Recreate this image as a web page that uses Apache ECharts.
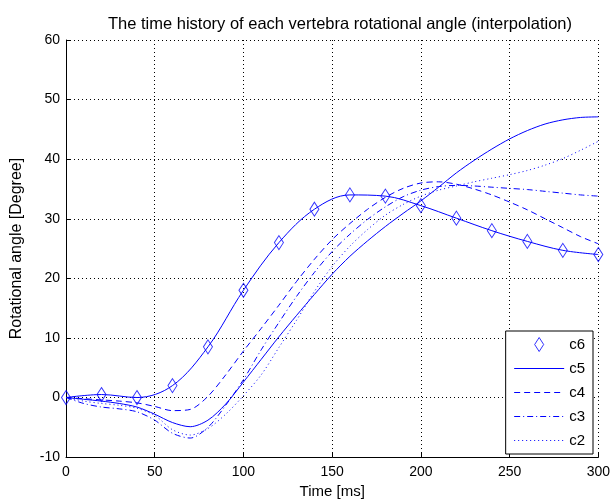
<!DOCTYPE html>
<html><head><meta charset="utf-8">
<script src="https://cdn.jsdelivr.net/npm/echarts@6/dist/echarts.min.js"></script>
<style>html,body{margin:0;padding:0;background:#fff}#c{width:613px;height:504px}</style>
</head><body><div id="c"></div>
<script>
const titleText = 'The time history of each vertebra rotational angle (interpolation)';
const xName = 'Time [ms]';
const yName = 'Rotational angle [Degree]';
const legendNames = ['c6','c5','c4','c3','c2'];
const timeMarkers = [0,20,40,60,80,100,120,140,160,180,200,220,240,260,280,300];
const c6 = [0,0.5,0,2,8.5,18,26,31.6,34,33.8,32.2,30.1,28,26.2,24.7,24];
const timeFine = [0,10,20,30,40,50,60,70,80,90,100,110,120,130,140,150,160,170,180,190,200,210,220,230,240,250,260,270,280,290,300];
const c5 = [0,-0.3,-0.6,-1.0,-1.6,-2.8,-4.2,-4.9,-3.8,-1.1,2.6,6.4,10.2,13.8,17.3,20.7,23.7,26.3,28.7,30.9,33.0,35.3,37.7,39.8,41.7,43.4,44.8,45.9,46.6,47.0,47.1];
const c4 = [0,-0.2,-0.4,-0.6,-0.9,-1.5,-2.2,-2.0,0.2,3.8,7.8,11.6,15.5,19.5,23.2,26.5,29.2,31.6,33.6,35.1,36.0,36.2,35.8,35.0,34.0,32.8,31.5,30.0,28.5,27.0,25.8];
const c3 = [0,-1.0,-1.6,-1.9,-2.4,-3.8,-6.0,-6.8,-5.0,-1.3,3.0,8.0,12.6,17.0,21.0,24.5,27.4,29.9,32.0,33.7,34.8,35.4,35.6,35.5,35.3,35.1,34.9,34.6,34.3,34.0,33.8];
const c2 = [0,-0.6,-1.0,-1.3,-1.8,-3.0,-5.4,-6.3,-5.2,-2.8,0.3,3.8,8.4,13.0,17.8,22.0,25.4,28.2,30.6,32.4,33.8,34.8,35.5,36.2,36.8,37.4,38.1,39.0,40.1,41.5,43.0];
const xTicks = {min:0, max:300, interval:50};
const yTicks = {min:-10, max:60, interval:10};

const BLUE = '#0000ff';
const font = 'Liberation Sans, Arial, sans-serif';
const pairs = (xs, ys) => xs.map((x, i) => [x, ys[i]]);
const dashes = {c5: 'solid', c4: [6, 4], c3: [6, 3, 1, 3], c2: [1, 3]};
const lineSeries = (name, ys) => ({
  name, type: 'line', data: pairs(timeFine, ys), smooth: 0.3, symbol: 'none',
  lineStyle: {color: BLUE, width: 1, type: dashes[name]}, z: 3
});
const lineIcon = 'path://M0,0 M50,14 M0,7 L50,7';
const diamondIcon = 'path://M0,0 M50,14 M25,0 L29.5,7 L25,14 L20.5,7 Z';
const legendData = legendNames.map(n => n === 'c6'
  ? {name: n, icon: diamondIcon, itemStyle: {color: 'rgba(255,255,255,0)', borderColor: BLUE, borderWidth: 1}}
  : {name: n, icon: lineIcon, itemStyle: {color: 'rgba(255,255,255,0)', borderColor: BLUE, borderWidth: 1, borderType: dashes[n]}});

const chart = echarts.init(document.getElementById('c'), null, {renderer: 'canvas'});
chart.setOption({
  animation: false,
  backgroundColor: '#fff',
  title: {text: titleText, left: 335, top: 11, textAlign: 'center',
    textStyle: {fontFamily: font, fontSize: 16.5, fontWeight: 'normal', color: '#000'}},
  grid: {left: 66, right: 10, top: 40, bottom: 43, containLabel: false},
  legend: {
    data: legendData, orient: 'vertical', right: 20, top: 331,
    itemWidth: 50, itemHeight: 14, itemGap: 9, padding: [6, 8, 6, 8],
    borderColor: '#000', borderWidth: 1, backgroundColor: '#fff',
    textStyle: {fontFamily: font, fontSize: 15, color: '#000'}
  },
  xAxis: {type: 'value', min: xTicks.min, max: xTicks.max, interval: xTicks.interval,
    name: xName, nameLocation: 'middle', nameGap: 26,
    nameTextStyle: {fontFamily: font, fontSize: 15, color: '#000'},
    axisLine: {show: true, onZero: false, lineStyle: {color: '#000', width: 1}},
    axisTick: {show: true, inside: true, length: 5, lineStyle: {color: '#000'}},
    axisLabel: {fontFamily: font, fontSize: 14, color: '#000', margin: 8},
    splitLine: {show: true, lineStyle: {color: '#000', type: [1, 3], width: 1}}
  },
  yAxis: {type: 'value', min: yTicks.min, max: yTicks.max, interval: yTicks.interval,
    name: yName, nameLocation: 'middle', nameGap: 41, nameRotate: 90,
    nameTextStyle: {fontFamily: font, fontSize: 16, color: '#000'},
    axisLine: {show: true, onZero: false, lineStyle: {color: '#000', width: 1}},
    axisTick: {show: true, inside: true, length: 5, lineStyle: {color: '#000'}},
    axisLabel: {fontFamily: font, fontSize: 14, color: '#000', margin: 6},
    splitLine: {show: true, lineStyle: {color: '#000', type: [1, 3], width: 1}}
  },
  series: [
    {name: 'c6', type: 'scatter', data: pairs(timeMarkers, c6), symbol: 'diamond', symbolSize: [9, 14],
      itemStyle: {color: 'rgba(255,255,255,0)', borderColor: BLUE, borderWidth: 1}, z: 4},
    {name: 'c6 interp', type: 'line', data: pairs(timeMarkers, c6), smooth: 0.35, symbol: 'none',
      lineStyle: {color: BLUE, width: 1}, z: 3},
    lineSeries('c5', c5),
    lineSeries('c4', c4),
    lineSeries('c3', c3),
    lineSeries('c2', c2)
  ]
});
</script></body></html>
